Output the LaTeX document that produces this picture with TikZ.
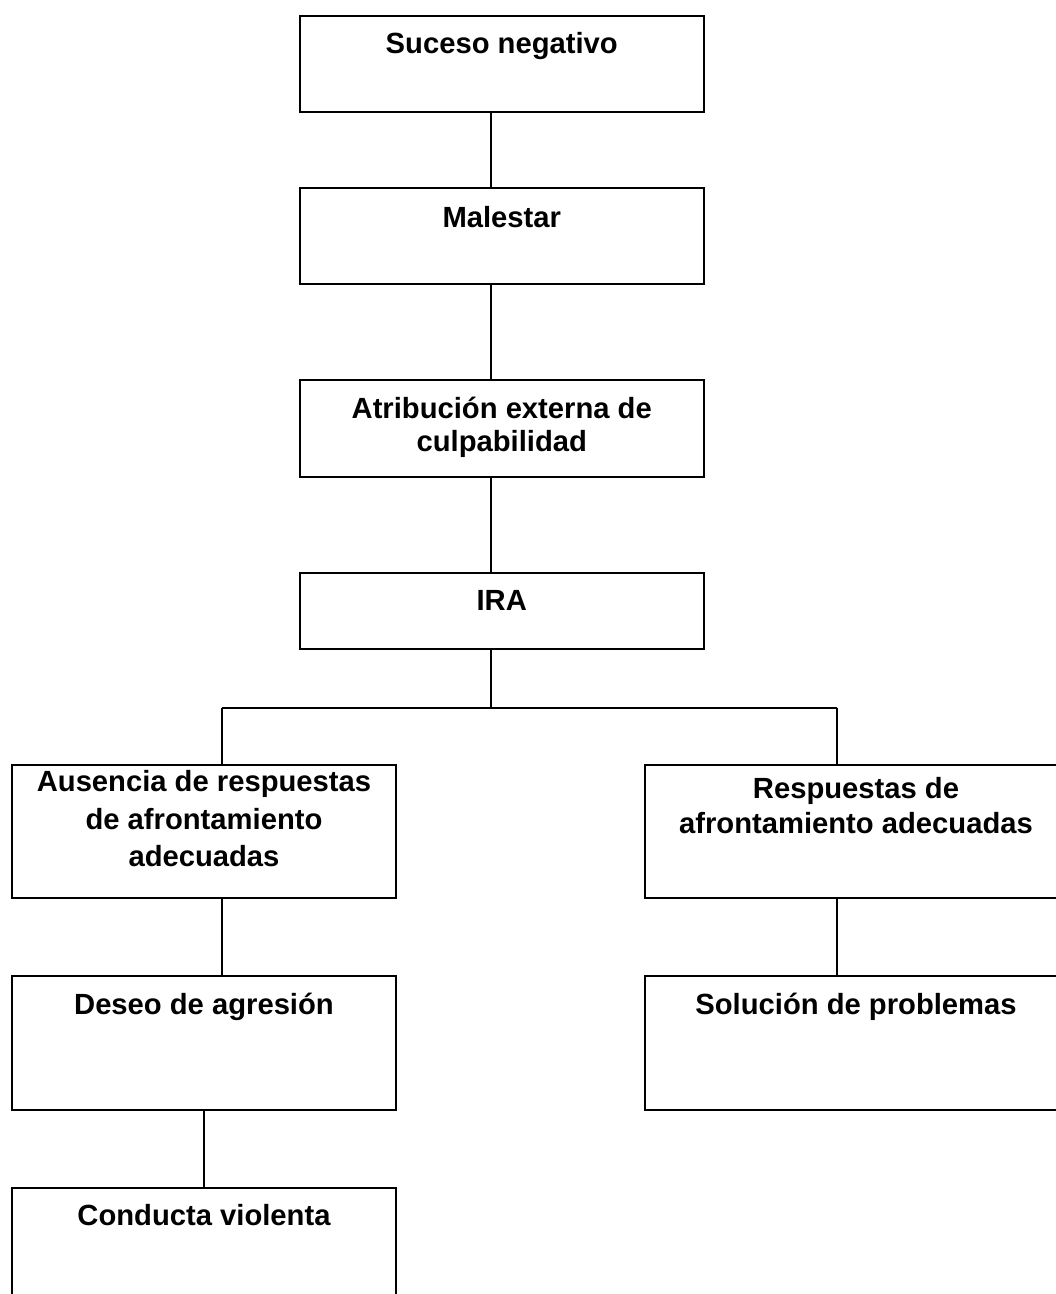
\documentclass[tikz,border=0pt]{standalone}
\usepackage{fontspec}
\setmainfont{Liberation Sans}
\begin{document}
\begin{tikzpicture}[x=1pt,y=-1pt,
  box/.style={draw, line width=2pt, rectangle, inner sep=0pt, anchor=north west},
  lbl/.style={font=\bfseries\fontsize{29.2}{33.4}\selectfont, align=center, anchor=base, inner sep=0pt},
  conn/.style={line width=2pt}]
\useasboundingbox (0,0) rectangle (1056,1294);
\clip (0,0) rectangle (1056,1294);
% boxes
\node[box, minimum width=404.5pt, minimum height=96pt] (suc) at (298.5,15) {};
\node[box, minimum width=404.5pt, minimum height=96pt] (mal) at (298.5,187) {};
\node[box, minimum width=404.5pt, minimum height=97pt] (atr) at (298.5,379) {};
\node[box, minimum width=404.5pt, minimum height=76pt] (ira) at (298.5,572) {};
\node[box, minimum width=384pt, minimum height=133pt] (aus) at (11,764) {};
\node[box, minimum width=422pt, minimum height=133pt] (res) at (644,764) {};
\node[box, minimum width=384pt, minimum height=134pt] (des) at (11,975) {};
\node[box, minimum width=422pt, minimum height=134pt] (sol) at (644,975) {};
\node[box, minimum width=384pt, minimum height=130pt] (con) at (11,1187) {};
% labels (base = baseline of the last line)
\node[lbl] (tsuc) at ([yshift=-38pt]suc.north) {Suceso negativo};
\node[lbl] (tmal) at ([yshift=-40pt]mal.north) {Malestar};
\node[lbl] (tatr) at ([yshift=-72.7pt]atr.north) {Atribución externa de\\culpabilidad};
\node[lbl] (tira) at ([yshift=-38pt]ira.north) {IRA};
\node[lbl, font=\bfseries\fontsize{29.2}{37.5}\selectfont] (taus) at ([yshift=-102.7pt]aus.north) {Ausencia de respuestas\\de afrontamiento\\adecuadas};
\node[lbl, font=\bfseries\fontsize{29.2}{35}\selectfont] (tres) at ([yshift=-69pt]res.north) {Respuestas de\\afrontamiento adecuadas};
\node[lbl] (tdes) at ([yshift=-39pt]des.north) {Deseo de agresión};
\node[lbl] (tsol) at ([yshift=-39pt]sol.north) {Solución de problemas};
\node[lbl] (tcon) at ([yshift=-38pt]con.north) {Conducta violenta};
% connectors
\coordinate (sp) at (491,0);
\coordinate (jm) at (491,708);
\coordinate (jl) at (222,708);
\coordinate (jr) at (837,708);
\draw[conn] (suc.south -| sp) -- (mal.north -| sp);
\draw[conn] (mal.south -| sp) -- (atr.north -| sp);
\draw[conn] (atr.south -| sp) -- (ira.north -| sp);
\draw[conn] (ira.south -| sp) -- (jm);
\draw[conn] (jl) -- (jr);
\draw[conn] (jl) -- (jl |- aus.north);
\draw[conn] (jr) -- (jr |- res.north);
\draw[conn] (aus.south -| jl) -- (des.north -| jl);
\draw[conn] (res.south -| jr) -- (sol.north -| jr);
\draw[conn] (des.south) -- (con.north);
\end{tikzpicture}
\end{document}
